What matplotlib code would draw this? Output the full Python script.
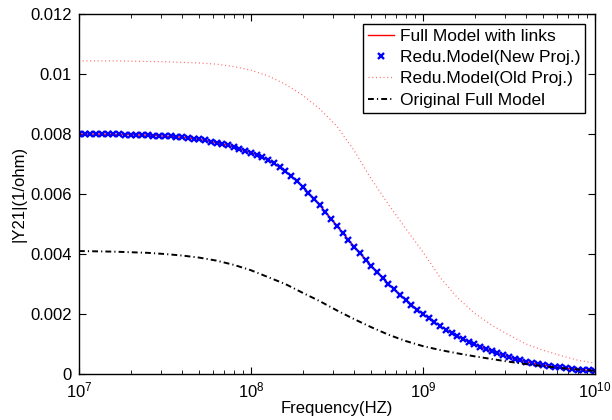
import numpy as np
import matplotlib
matplotlib.use("Agg")
import matplotlib.pyplot as plt
from matplotlib.ticker import FixedLocator, LogLocator, NullFormatter, FuncFormatter

plt.rcParams['font.family'] = ['Liberation Sans', 'DejaVu Sans']
plt.rcParams['mathtext.default'] = 'regular'

# frequency sweep (Hz), 1/30 decade steps from 1e7 to 1e10
freq = np.logspace(7, 10, 91)

# |Y21| of full model with links == reduced model (new projection)
y_full = [
    0.00800, 0.00800, 0.00800,
    0.00800, 0.00800, 0.00799,
    0.00799, 0.00799, 0.00798,
    0.00798, 0.00797, 0.00797,
    0.00796, 0.00795, 0.00794,
    0.00793, 0.00792, 0.00791,
    0.00789, 0.00787, 0.00785,
    0.00782, 0.00779, 0.00775,
    0.00771, 0.00767, 0.00762,
    0.00757, 0.00751, 0.00745,
    0.00738, 0.00731, 0.00723,
    0.00714, 0.00702, 0.00689,
    0.00676, 0.00660, 0.00643,
    0.00625, 0.00605, 0.00584,
    0.00563, 0.00540, 0.00517,
    0.00494, 0.00471, 0.00448,
    0.00425, 0.00403, 0.00381,
    0.00360, 0.00340, 0.00320,
    0.00300, 0.00282, 0.00264,
    0.00247, 0.00231, 0.00215,
    0.00200, 0.00186, 0.00173,
    0.00160, 0.00148, 0.00137,
    0.00127, 0.00117, 0.00108,
    0.00099, 0.00091, 0.00083,
    0.00076, 0.00069, 0.00062,
    0.00056, 0.00051, 0.00046,
    0.00041, 0.00037, 0.00033,
    0.00030, 0.00027, 0.00024,
    0.00022, 0.00019, 0.00017,
    0.00015, 0.00013, 0.00012,
    0.00011,
]

# coarser curves, 0.1 decade steps
freq_c = np.logspace(7, 10, 31)
y_old = [
    0.01044, 0.01044, 0.01044, 0.01043, 0.01042, 0.01041, 0.01039, 0.01037,
    0.01033, 0.01025, 0.01013, 0.00994, 0.00966, 0.00930, 0.00884, 0.00826,
    0.00745, 0.00650, 0.00565, 0.00485, 0.00407, 0.00322, 0.00255, 0.00203,
    0.00163, 0.00130, 0.00100, 0.00079, 0.00062, 0.00046, 0.00036,
]
y_orig = [
    0.00410, 0.00409, 0.00408, 0.00406, 0.00404, 0.00400, 0.00395, 0.00388,
    0.00378, 0.00364, 0.00346, 0.00323, 0.00300, 0.00271, 0.00243, 0.00212,
    0.00183, 0.00156, 0.00131, 0.00110, 0.00093, 0.00080, 0.00069, 0.00059,
    0.00050, 0.00041, 0.00033, 0.00026, 0.00020, 0.00015, 0.00011,
]

fig = plt.figure(figsize=(6.12, 4.2), dpi=100)
ax = fig.add_axes([0.129, 0.1095, 0.843, 0.857])

ax.semilogx(freq, y_full, color='red', lw=1.0, label='Full Model with links')
ax.semilogx(freq, y_full, linestyle='none', marker='x', color='blue',
            markersize=5, markeredgewidth=1.7, label='Redu.Model(New Proj.)')
ax.semilogx(freq_c, y_old, color='#ff6a6a', lw=0.9, dashes=(0.8, 2.2),
            label='Redu.Model(Old Proj.)')
ax.semilogx(freq_c, y_orig, color='black', lw=1.4, dashes=(3.0, 1.6, 0.6, 1.6),
            label='Original Full Model')

ax.set_xlim(1e7, 1e10)
ax.set_ylim(0, 0.012)
ax.set_yticks([0, 0.002, 0.004, 0.006, 0.008, 0.01, 0.012])
ax.set_yticklabels(['0', '0.002', '0.004', '0.006', '0.008', '0.01', '0.012'])
ax.xaxis.set_major_locator(FixedLocator([1e7, 1e8, 1e9, 1e10]))
ax.xaxis.set_major_formatter(FuncFormatter(lambda v, p: r'$10^{%d}$' % round(np.log10(v))))
ax.xaxis.set_minor_locator(LogLocator(base=10, subs=np.arange(2, 10)))
ax.xaxis.set_minor_formatter(NullFormatter())

ax.tick_params(which='both', direction='in', top=True, right=True, labelsize=12)
ax.tick_params(which='major', length=5, width=0.8)
ax.tick_params(which='minor', length=3, width=0.6)
ax.tick_params(axis='x', pad=5)
ax.tick_params(axis='y', pad=5)
for s in ax.spines.values():
    s.set_linewidth(1.0)

ax.set_xlabel('Frequency(HZ)', fontsize=12, labelpad=0)
ax.set_ylabel('|Y21|(1/ohm)', fontsize=12, labelpad=3)

leg = ax.legend(loc='upper right', fontsize=12.5, numpoints=1, fancybox=False,
                edgecolor='black', framealpha=1, borderpad=0.3, labelspacing=0.35,
                handlelength=1.5, handletextpad=0.3, borderaxespad=0.55)
leg.get_frame().set_linewidth(1.0)

fig.savefig('out.png', dpi=100)
